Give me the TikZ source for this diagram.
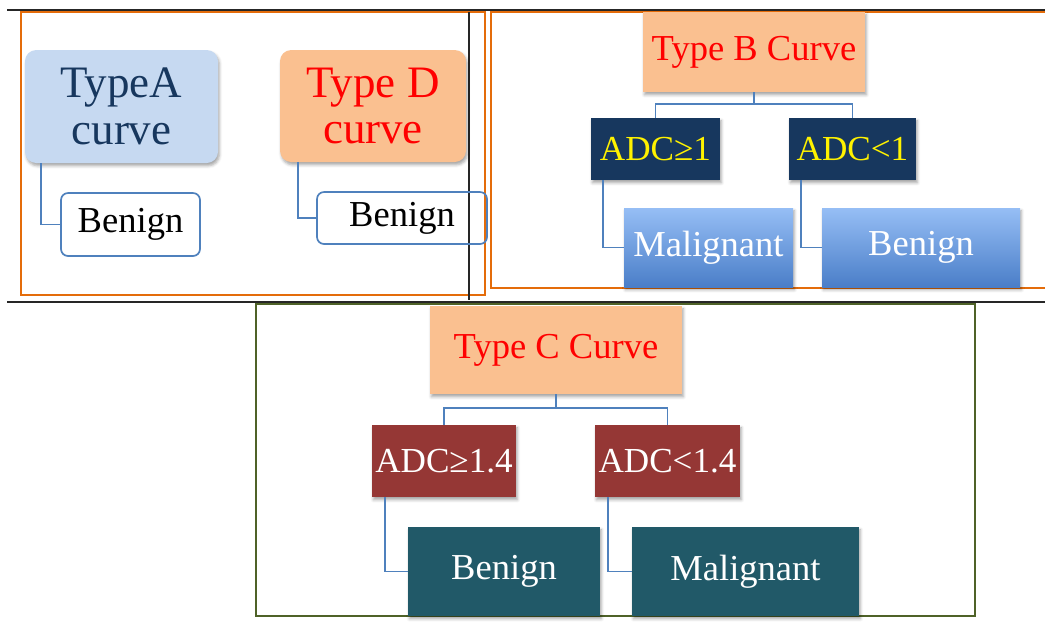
\documentclass[tikz,border=0pt]{standalone}
\usepackage{fontspec}
\setmainfont{Liberation Serif}
\usetikzlibrary{positioning,calc,shadows.blur}

\definecolor{peach}{RGB}{250,192,144}
\definecolor{paleblue}{RGB}{198,217,241}
\definecolor{navy}{RGB}{23,55,94}
\definecolor{linkblue}{RGB}{79,129,189}
\definecolor{frameorange}{RGB}{228,108,10}
\definecolor{frameolive}{RGB}{79,98,40}
\definecolor{brick}{RGB}{149,55,53}
\definecolor{tealdark}{RGB}{33,89,104}
\definecolor{gradtop}{RGB}{150,190,245}
\definecolor{gradbot}{RGB}{74,126,200}

\begin{document}
\begin{tikzpicture}[
    softshadow/.style={blur shadow={shadow xshift=1pt, shadow yshift=-2pt, shadow blur radius=2pt, shadow opacity=35}},
    curvebox/.style={rectangle, rounded corners=8pt, align=center, inner sep=0pt, softshadow, font=\fontsize{32}{33}\selectfont},
    rootbox/.style={rectangle, fill=peach, text=red, inner sep=0pt, softshadow, font=\fontsize{26}{28}\selectfont},
    leafline/.style={rectangle, rounded corners=5pt, draw=linkblue, line width=1.2pt, inner sep=0pt, font=\fontsize{26}{28}\selectfont},
    adcbox/.style={rectangle, inner sep=0pt, softshadow, font=\fontsize{25}{27}\selectfont},
    leafbox/.style={rectangle, inner sep=0pt, text=white, softshadow, font=\fontsize{26}{28}\selectfont},
    link/.style={draw=linkblue, line width=1.2pt},
]
\useasboundingbox (0,0) rectangle (26.125,-15.525);

% Panel frames
\draw[black!85, line width=1.2pt] (0.175,-0.25) -- (26.125,-0.25);
\draw[black!85, line width=1.2pt] (0.175,-7.55) -- (26.125,-7.55);
\draw[frameorange, line width=1pt] (0.525,-0.3) rectangle (12.125,-7.375);
\draw[frameorange, line width=1pt] (12.275,-0.3) rectangle (26.3,-7.2);
\draw[frameolive, line width=1pt] (6.4,-7.6) rectangle (24.375,-15.4);
\draw[black!85, line width=1pt] (11.725,-0.3) -- (11.725,-7.5);

% Type A and Type D
\node[curvebox, fill=paleblue, text=navy, minimum width=4.825cm, minimum height=2.825cm] (typeA) at (3.0375,-2.6625) {TypeA\\curve};
\node[leafline, fill=white, minimum width=3.475cm, minimum height=1.575cm] (benignA) at (3.2625,-5.6125) {Benign};
\node[curvebox, fill=peach, text=red, minimum width=4.65cm, minimum height=2.8cm] (typeD) at (9.325,-2.65) {Type D\\curve};
\node[leafline, minimum width=4.25cm, minimum height=1.3cm] (benignD) at (10.05,-5.45) {Benign};

\draw[link] ($(typeA.south west)+(0.4,0)$) |- (benignA.west);
\draw[link] ($(typeD.south west)+(0.45,0)$) |- (benignD.west);

% Type B tree
\node[rootbox, minimum width=5.55cm, minimum height=2cm] (typeB) at (18.85,-1.3) {Type B Curve};
\node[adcbox, fill=navy, text=yellow, minimum width=3.225cm, minimum height=1.55cm] (adcB1) at (16.3875,-3.725) {ADC≥1};
\node[adcbox, fill=navy, text=yellow, minimum width=3.175cm, minimum height=1.55cm] (adcB2) at (21.3125,-3.725) {ADC<1};
\node[leafbox, top color=gradtop, bottom color=gradbot, minimum width=4.225cm, minimum height=1.975cm] (malB) at (17.7125,-6.1875) {Malignant};
\node[leafbox, top color=gradtop, bottom color=gradbot, minimum width=4.95cm, minimum height=1.975cm] (benB) at (23.025,-6.1875) {Benign};

\draw[link] (typeB.south) -- ++(0,-0.3) -| (adcB1.north);
\draw[link] (typeB.south) -- ++(0,-0.3) -| (adcB2.north);
\draw[link] ($(adcB1.south west)+(0.3,0)$) |- (malB.west);
\draw[link] ($(adcB2.south west)+(0.3,0)$) |- (benB.west);

% Type C tree
\node[rootbox, minimum width=6.3cm, minimum height=2.2cm] (typeC) at (13.9,-8.75) {Type C Curve};
\node[adcbox, fill=brick, text=white, minimum width=3.6cm, minimum height=1.8cm] (adcC1) at (11.1,-11.525) {ADC≥1.4};
\node[adcbox, fill=brick, text=white, minimum width=3.625cm, minimum height=1.8cm] (adcC2) at (16.6875,-11.525) {ADC<1.4};
\node[leafbox, fill=tealdark, minimum width=4.8cm, minimum height=2.225cm] (benC) at (12.6,-14.2875) {Benign};
\node[leafbox, fill=tealdark, minimum width=5.675cm, minimum height=2.225cm] (malC) at (18.6375,-14.2875) {Malignant};

\draw[link] (typeC.south) -- ++(0,-0.35) -| (adcC1.north);
\draw[link] (typeC.south) -- ++(0,-0.35) -| (adcC2.north);
\draw[link] ($(adcC1.south west)+(0.325,0)$) |- (benC.west);
\draw[link] ($(adcC2.south west)+(0.325,0)$) |- (malC.west);

\end{tikzpicture}
\end{document}
